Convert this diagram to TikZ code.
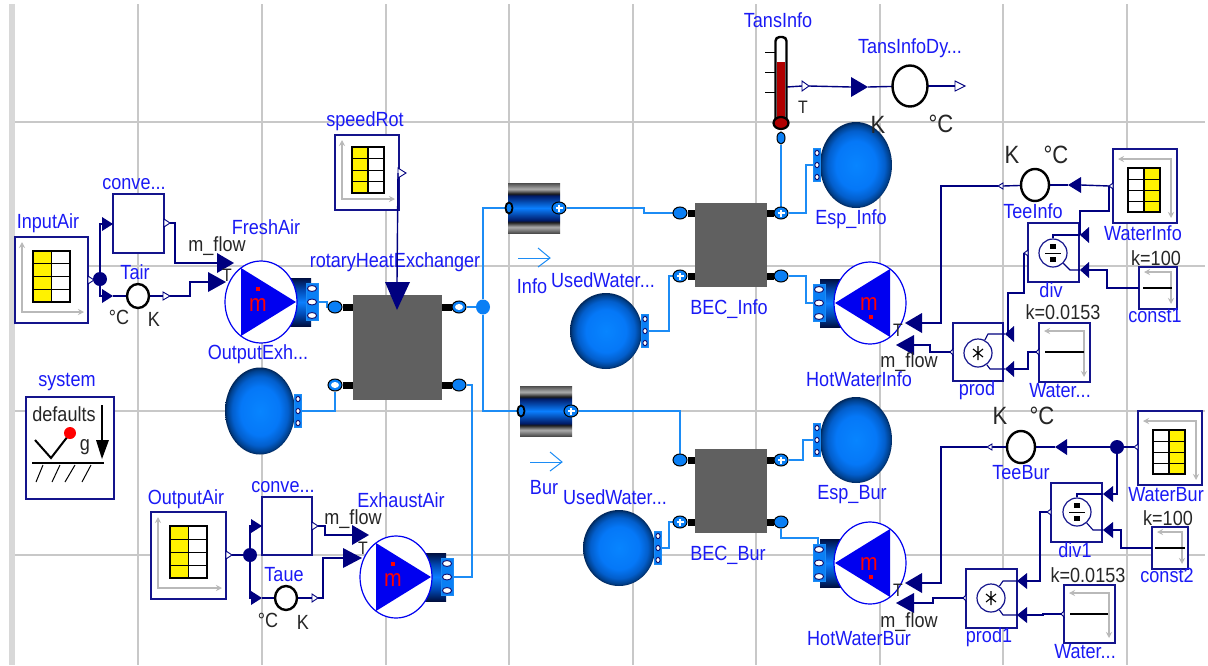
\documentclass[tikz,border=0pt]{standalone}
\usepackage{fontspec}
\setmainfont{Liberation Sans}
\newfontfamily\tallf[FakeStretch=0.88]{Liberation Sans}
\usetikzlibrary{shapes.geometric,arrows.meta}
\definecolor{navysig}{HTML}{00007F}
\definecolor{boxblue}{HTML}{14148C}
\definecolor{labblue}{HTML}{1A1AF5}
\definecolor{pureblue}{HTML}{0000F0}
\definecolor{flowc}{HTML}{1C8CF5}
\definecolor{fblue}{HTML}{0A7FF5}
\definecolor{gridc}{HTML}{C8C8C8}
\definecolor{hxgray}{HTML}{606060}
\definecolor{redth}{HTML}{B00000}
\pgfdeclarelayer{grid}\pgfdeclarelayer{boxes}\pgfdeclarelayer{conn}
\pgfsetlayers{grid,boxes,conn,main}
\pgfdeclareradialshading{sph}{\pgfpoint{0bp}{0bp}}{rgb(0bp)=(.03,.52,1);rgb(14bp)=(.02,.47,.97);rgb(20bp)=(.01,.37,.8);rgb(23.5bp)=(0,.25,.55);rgb(25bp)=(0,.15,.35);rgb(50bp)=(0,.15,.35)}
\pgfdeclareverticalshading{cylsh}{100bp}{rgb(0bp)=(0,.06,.25);rgb(25bp)=(0,.06,.25);rgb(37bp)=(0,.28,.7);rgb(50bp)=(.04,.5,1);rgb(63bp)=(0,.28,.7);rgb(75bp)=(0,.06,.25);rgb(100bp)=(0,.06,.25)}
\pgfdeclareverticalshading{pipesh}{100bp}{rgb(0bp)=(.3,.3,.3);rgb(25bp)=(.3,.3,.3);rgb(31bp)=(.68,.68,.68);rgb(36bp)=(.08,.08,.08);rgb(37.5bp)=(0,.1,.4);rgb(50bp)=(.04,.5,1);rgb(62.5bp)=(0,.1,.4);rgb(64bp)=(.08,.08,.08);rgb(69bp)=(.68,.68,.68);rgb(75bp)=(.3,.3,.3);rgb(100bp)=(.3,.3,.3)}
\tikzset{
 lab/.style={text=labblue,font=\tallf\fontsize{20.5}{20.5}\selectfont,inner sep=0pt},
 blk/.style={text=black!85,font=\tallf\fontsize{20.5}{20.5}\selectfont,inner sep=0pt},
 big/.style={text=black!85,font=\tallf\fontsize{25}{25}\selectfont,inner sep=0pt},
 smallt/.style={text=black!85,font=\tallf\fontsize{18}{18}\selectfont,inner sep=0pt},
 redm/.style={text=red,font=\tallf\fontsize{24}{24}\selectfont,inner sep=0pt},
 bbox/.style={draw=boxblue,line width=1.4pt,fill=white,rectangle,inner sep=0pt,outer sep=0pt},
 sig/.style={draw=navysig,line width=1.4pt},
 inner/.style={draw=navysig,line width=1.1pt},
 flow/.style={draw=flowc,line width=1.6pt},
 stub/.style={draw=black,line width=7pt},
 axisl/.style={draw=gray!55,line width=1.1pt,{Stealth[length=6pt,width=6pt]}-{Stealth[length=6pt,width=6pt]}},
 ringb/.style={ellipse,draw=black,line width=2.4pt,fill=white,inner sep=0pt,outer sep=0pt},
 mathc/.style={ellipse,draw=boxblue,line width=1.2pt,fill=white,inner sep=0pt,minimum width=28pt,minimum height=28pt},
 jct/.style={ellipse,fill=navysig,inner sep=0pt,minimum width=14pt,minimum height=14pt},
 hxb/.style={rectangle,fill=hxgray,inner sep=0pt,outer sep=0pt},
 portn/.style={ellipse,draw=black,line width=1pt,fill=fblue,inner sep=0pt,minimum width=14pt,minimum height=12pt},
 portk/.style={ellipse,draw=black,line width=1.8pt,fill=fblue,inner sep=0pt,minimum width=7pt,minimum height=11pt},
 flowarr/.style={draw=flowc,line width=1pt}
}
% box node
\newcommand\bx[5]{\begin{pgfonlayer}{boxes}\node[bbox,minimum width={#4-#2},minimum height={#5-#3}] (#1) at ({(#2+#4)/2},{(#3+#5)/2}) {};\end{pgfonlayer}}
% axes: normal and flipped
\newcommand\axn[4]{\draw[axisl] ({#1+7},{#2+5}) -- ({#1+7},{#4-11}) -- ({#3-4},{#4-11});}
\newcommand\axf[4]{\draw[axisl] ({#1+5},{#2+10}) -- ({#3-6},{#2+10}) -- ({#3-6},{#4-5});}
% table grid
\newcommand\tgrid[5]{%
 \fill[white] (#1,#2) rectangle (#3,#4);
 \ifnum#5=0 \fill[yellow] (#1,#2) rectangle ({(#1+#3)/2},#4);\else \fill[yellow] ({(#1+#3)/2},#2) rectangle (#3,#4);\fi
 \draw[black,line width=1.1pt] (#1,#2) rectangle (#3,#4);
 \draw[black,line width=1.1pt] ({(#1+#3)/2},#2) -- ({(#1+#3)/2},#4);
 \foreach \ff in {.25,.5,.75} \draw[black,line width=1pt] (#1,{#2+\ff*(#4-#2)}) -- (#3,{#2+\ff*(#4-#2)});
}
% triangles: name, base x, y, width (signed), half height
\newcommand\tri[5]{\coordinate (#1) at (#2,#3);\coordinate (#1-t) at ({#2+#4},#3);
 \fill[navysig] (#2,{#3-#5}) -- ({#2+#4},#3) -- (#2,{#3+#5}) -- cycle;}
\newcommand\htri[5]{\coordinate (#1) at (#2,#3);\coordinate (#1-t) at ({#2+#4},#3);
 \draw[navysig,fill=white,line width=.9pt] (#2,{#3-#5}) -- ({#2+#4},#3) -- (#2,{#3+#5}) -- cycle;}
% port strip: centre, half width, spacing
\newcommand\strip[4]{\draw[flowc,fill=fblue,line width=1pt] ({#1-#3},{#2-1.4*#4}) rectangle ({#1+#3},{#2+1.4*#4});
 \foreach \dd in {-1,0,1} \draw[boxblue!80!black,fill=white,line width=.9pt] ({#1},{#2+\dd*#4}) ellipse [x radius={#3-1.4},y radius={.22*#4}];}
% sphere: name cx cy rx ry dir
\newcommand\sphr[6]{\node[ellipse,shading=sph,inner sep=0pt,minimum width={2*#4},minimum height={2*#5}] (#1) at (#2,#3) {};
 \strip{#2+#6*(#4+3)}{#3}{3.5}{12}
 \coordinate (#1-o) at ({#2+#6*(#4+6)},#3);}
% pump: name cx cy dir
\newcommand\pump[4]{%
 \shade[shading=cylsh] ({#2+#4*28},{#3-24}) rectangle ({#2+#4*50},{#3+24});
 \node[ellipse,draw=pureblue,line width=1.2pt,fill=white,inner sep=0pt,minimum width=72pt,minimum height=82pt] (#1) at (#2,#3) {};
 \fill[pureblue] ({#2-#4*20},{#3-34}) -- ({#2+#4*35},#3) -- ({#2-#4*20},{#3+34}) -- cycle;
 \strip{#2+#4*51}{#3}{6}{13.5}
 \coordinate (#1-o) at ({#2+#4*57},#3);
 \coordinate (#1-t) at ({#2+#4*52},{#3-19});
 \ifnum#4=1
  \node[redm] (#1-m) at ({#2-3},{#3+3}) {m};
  \fill[red] ({#2-5},{#3-15}) rectangle ({#2-1},{#3-11});
 \else
  \node[redm] (#1-m) at ({#2-1},{#3+1}) {m};
  \fill[red] ({#2-1},{#3+12}) rectangle ({#2+3},{#3+16});
 \fi
}
% fluid port: name x y type
\newcommand\fport[4]{\node[portn] (#1) at (#2,#3) {};
 \if#4w\fill[white] (#2,#3) ellipse [x radius=4,y radius=3];\fi
 \if#4p\fill[white] ({#2-3.5},{#3-1}) rectangle ({#2+3.5},{#3+1});\fill[white] ({#2-1},{#3-3.5}) rectangle ({#2+1},{#3+3.5});\fi
}
\newcommand\pipeb[3]{\node[rectangle,shading=pipesh,inner sep=0pt,minimum width=52pt,minimum height=50pt] (#1) at (#2,#3) {};}
\newcommand\farrow[2]{\draw[flowarr] (#1,#2) -- ({#1+32},#2);\draw[flowarr] ({#1+20},{#2-10}) -- ({#1+32},#2) -- ({#1+20},{#2+9});}
\newcommand\divsym[2]{\fill[black] ({#1-3},{#2-9}) rectangle ({#1+3},{#2-4});\fill[black] ({#1-3},{#2+4}) rectangle ({#1+3},{#2+9});\draw[black,line width=1pt] ({#1-8},#2) -- ({#1+8},#2);}
\newcommand\mulsym[2]{\draw[black,line width=1.1pt] ({#1-5},{#2-4}) -- ({#1+5},{#2+4}) ({#1+5},{#2-4}) -- ({#1-5},{#2+4}) (#1,{#2-7}) -- (#1,{#2+7});}
\begin{document}
\begin{tikzpicture}[x=1pt,y=-1pt]
\useasboundingbox (0,0) rectangle (1208,665);
% grid
\begin{pgfonlayer}{grid}
\fill[white] (0,0) rectangle (1208,665);
\fill[gridc!70] (9,4) rectangle (15,665);
\foreach \gx in {138,262,386,509,633,756,880,1003,1127} \draw[gridc,line width=1.5pt] (\gx,4) -- (\gx,665);
\foreach \gy in {122,266,411,555} \draw[gridc,line width=1.5pt] (15,\gy) -- (1205,\gy);
\end{pgfonlayer}
% -------- left column
\bx{inputair}{15}{237}{88}{323}\axn{15}{237}{88}{323}\tgrid{33}{251}{70}{302}{0}
\bx{conv1}{113}{194}{164}{253}
\node[ringb,minimum width=22pt,minimum height=24pt] (tair) at (138,296) {};
\node[jct] (j1) at (100,279) {};
\htri{hIA}{88}{280}{6}{4}
\tri{tC1}{102}{224}{11}{7}
\tri{tT1}{102}{296}{11}{7}
\htri{hC1}{164}{223}{6}{4}
\htri{hT1}{163}{296}{7}{4}
\tri{tF1}{217}{263}{17}{10}
\tri{tF2}{208}{282}{18}{10}
\pump{fresh}{261}{302}{1}
% speedRot
\bx{speedrot}{335}{135}{399}{210}\axn{335}{135}{399}{210}\tgrid{352}{147}{384}{193}{0}
\htri{hS}{398}{173}{8}{5}
% rotary exchanger
\node[hxb,minimum width=89pt,minimum height=105pt] (rhx) at (397.5,347.5) {};
\fport{pRTL}{335}{307}{s}\fport{pRBL}{335}{385}{w}\fport{pRTR}{459}{307}{w}\fport{pRBR}{459}{385}{s}
\node[ellipse,fill=fblue,inner sep=0pt,minimum width=14pt,minimum height=15pt] (jf) at (483,307) {};
\coordinate (tS) at (397,282);
\sphr{outexh}{260}{411}{35}{43.5}{1}
% system
\bx{sys}{26}{397}{114}{499}
\node[blk] (sdef) at (64,414) {defaults};
\draw[black,line width=1.1pt] (102,405) -- (102,445);
\fill[black] (96,440) -- (109,440) -- (102,459) -- cycle;
\node[blk] (sg) at (85,447) {g};
\draw[black,line width=2pt] (35,440) -- (51,458) -- (68,436);
\node[circle,fill=red,inner sep=0pt,minimum size=12pt] (sdot) at (70,433) {};
\draw[black,line width=1.2pt] (32,463) -- (104,463);
\draw[black,line width=1pt] (36,482) -- (43,465) (52,482) -- (60,465) (65,482) -- (75,465) (82,482) -- (91,465);
% output air
\bx{outputair}{151}{512}{226}{599}\axn{151}{512}{226}{599}\tgrid{170}{526}{207}{578}{0}
\bx{conv2}{262}{497}{312}{555}
\node[ringb,minimum width=22pt,minimum height=24pt] (taue) at (286,598) {};
\node[jct] (j2) at (250,555) {};
\htri{hOA}{226}{555}{6}{4}
\tri{tC2}{251}{526}{11}{7}
\tri{tT2}{251}{598}{11}{7}
\htri{hC2}{312}{526}{6}{4}
\htri{hT2}{312}{598}{6}{4}
\tri{tE1}{352}{535}{17}{10}
\tri{tE2}{343}{558}{19}{10}
\pump{exh}{396}{577}{1}
% pipes
\pipeb{pinfo}{534}{208}\pipeb{pbur}{546}{411}
\node[portk] (pIL) at (509,208) {};\fport{pIR}{559}{208}{p}
\node[portk] (pBL) at (521,411) {};\fport{pBR}{571}{411}{p}
\farrow{518}{258}\farrow{530}{462}
% BEC
\node[hxb,minimum width=72pt,minimum height=84pt] (becI) at (731,245) {};
\fport{bITL}{680}{213}{s}\fport{bIBL}{680}{276}{p}\fport{bITR}{781}{213}{p}\fport{bIBR}{781}{276}{s}
\node[hxb,minimum width=72pt,minimum height=84pt] (becB) at (731,491) {};
\fport{bBTL}{680}{460}{s}\fport{bBBL}{680}{522}{p}\fport{bBTR}{781}{460}{p}\fport{bBBR}{781}{522}{s}
\sphr{usedI}{606}{331}{36}{38}{1}
\sphr{usedB}{619}{548}{36}{38}{1}
\sphr{espI}{856}{165}{36}{43}{-1}
\sphr{espB}{856}{440}{36}{43}{-1}
\pump{hotI}{870}{303}{-1}
\pump{hotB}{870}{563}{-1}
% thermometer
\draw[black,line width=1pt] (765,52) -- (775,52) (765,72) -- (775,72) (765,92) -- (775,92);
\node[rectangle,rounded corners=4pt,draw=black,line width=2.4pt,fill=white,inner sep=0pt,minimum width=11pt,minimum height=86pt] (thermo) at (781,80) {};
\fill[redth] (777,62) rectangle (785,122);
\draw[black,line width=2.2pt,fill=redth] (781,123) ellipse [x radius=7.5,y radius=6];
\node[ellipse,draw=black,line width=1pt,fill=fblue,inner sep=0pt,minimum width=8pt,minimum height=12pt] (thP) at (781,138) {};
\coordinate (thO) at (787,87);
\htri{hTI}{802}{86}{7}{5}
\tri{tTD}{851}{87}{17}{10}
\node[ringb,minimum width=35pt,minimum height=41pt] (tdyn) at (910,86) {};
\htri{hTD}{955}{86}{10}{5}
% ---------- info controls
\bx{waterinfo}{1113}{149}{1177}{223}\axf{1113}{149}{1177}{223}\tgrid{1128}{168}{1160}{212}{1}
\node[ringb,minimum width=28pt,minimum height=32pt] (teeinfo) at (1035,185) {};
\bx{divI}{1028}{223}{1079}{282}
\node[mathc] (dvI) at (1053,253) {};\divsym{1053}{253}
\bx{const1}{1139}{267}{1177}{309}\axf{1139}{262}{1177}{309}
\draw[black,line width=1.1pt] (1143,288) -- (1172,288);
\bx{prodI}{953}{323}{1003}{381}
\node[mathc] (prI) at (978,353) {};\mulsym{978}{353}
\bx{waterk1}{1039}{323}{1090}{382}\axf{1039}{321}{1090}{382}
\draw[black,line width=1.1pt] (1045,352) -- (1084,352);
\htri{hWI}{1113}{186}{-4}{3}
\tri{tTI}{1081}{185}{-13}{8}
\htri{hTe}{1003}{186}{-5}{3}
\tri{tH1}{922}{323}{-17}{10}
\tri{tD1}{1089}{235}{-9}{8}
\tri{tD2}{1089}{270}{-9}{8}
\htri{hDv}{1028}{253}{-4}{3}
\tri{tP1}{1014}{334}{-9}{8}
\tri{tP2}{1014}{369}{-9}{8}
\htri{hPr}{953}{352}{-3}{3}
\tri{tH2}{914}{345}{-18}{10}
\htri{hW1}{1039}{352}{-3}{3}
% ---------- bur controls
\bx{waterbur}{1138}{411}{1202}{485}\axf{1138}{411}{1202}{485}\tgrid{1153}{430}{1185}{474}{1}
\node[ringb,minimum width=28pt,minimum height=32pt] (teebur) at (1021,447) {};
\node[jct] (j3) at (1117,447) {};
\bx{divB}{1051}{483}{1102}{542}
\node[mathc] (dvB) at (1077,512) {};\divsym{1077}{512}
\bx{const2}{1152}{527}{1188}{569}\axf{1152}{522}{1188}{569}
\draw[black,line width=1.1pt] (1155,548) -- (1185,548);
\bx{prodB}{966}{569}{1017}{628}
\node[mathc] (prB) at (991,598) {};\mulsym{991}{598}
\bx{waterk2}{1064}{585}{1115}{643}\axf{1064}{583}{1115}{643}
\draw[black,line width=1.1pt] (1070,614) -- (1108,614);
\htri{hWB}{1138}{447}{-4}{3}
\tri{tTB}{1067}{447}{-12}{8}
\htri{hTb}{992}{447}{-5}{3}
\tri{tH3}{922}{583}{-17}{10}
\tri{tD3}{1113}{494}{-10}{8}
\tri{tD4}{1113}{530}{-10}{8}
\htri{hD1}{1051}{512}{-4}{3}
\tri{tP3}{1027}{581}{-10}{8}
\tri{tP4}{1027}{615}{-10}{8}
\htri{hP1}{966}{598}{-3}{3}
\tri{tH4}{914}{603}{-18}{10}
\htri{hW2}{1064}{614}{-3}{3}
% ---------- labels
\node[lab] (lInputAir) at (48,223) {InputAir};
\node[lab] (lconv1) at (134,184) {conve...};
\node[lab] (lTair) at (135,272) {Tair};
\node[lab] (lFresh) at (266,227) {FreshAir};
\node[lab] (lOutExh) at (258,354) {OutputExh...};
\node[lab] (lSpeed) at (365,121) {speedRot};
\node[lab] (lRot) at (395,262) {rotaryHeatExchanger};
\node[lab] (lSys) at (67,382) {system};
\node[lab] (lOutAir) at (186,499) {OutputAir};
\node[lab] (lconv2) at (283,487) {conve...};
\node[lab] (lTaue) at (284,575) {Taue};
\node[lab] (lExh) at (401,500) {ExhaustAir};
\node[blk] (mF1) at (217,246) {m\_flow};
\node[blk] (mF2) at (353,519) {m\_flow};
\node[smallt] (tF) at (227,275) {T};
\node[smallt] (tE) at (363,548) {T};
\node[blk] (cT1) at (119,317) {°C};
\node[blk] (kT1) at (154,319) {K};
\node[blk] (cT2) at (268,620) {°C};
\node[blk] (kT2) at (303,622) {K};
\node[lab] (lInfo) at (532,286) {Info};
\node[lab] (lBur) at (544,488) {Bur};
\node[lab] (lUI) at (603,280) {UsedWater...};
\node[lab] (lUB) at (615,497) {UsedWater...};
\node[lab] (lBI) at (729,309) {BEC\_Info};
\node[lab] (lBB) at (728,555) {BEC\_Bur};
\node[lab] (lEI) at (851,219) {Esp\_Info};
\node[lab] (lEB) at (852,495) {Esp\_Bur};
\node[lab] (lHI) at (859,379) {HotWaterInfo};
\node[lab] (lHB) at (859,639) {HotWaterBur};
\node[lab] (lTrans) at (778,20) {TansInfo};
\node[lab] (lTD) at (910,48) {TansInfoDy...};
\node[smallt] (tTh) at (803,107) {T};
\node[big] (kTD) at (878,125) {K};
\node[big] (cTD) at (941,124) {°C};
\node[big] (kTI) at (1012,155) {K};
\node[big] (cTI) at (1056,155) {°C};
\node[lab] (lTeeI) at (1033,211) {TeeInfo};
\node[lab] (lWI) at (1143,233) {WaterInfo};
\node[lab] (ldiv) at (1051,290) {div};
\node[blk] (k100a) at (1156,258) {k=100};
\node[lab] (lc1) at (1155,316) {const1};
\node[blk] (k153a) at (1063,312) {k=0.0153};
\node[lab] (lprod) at (977,390) {prod};
\node[lab] (lw1) at (1060,391) {Water...};
\node[smallt] (tHI) at (898,330) {T};
\node[blk] (mHI) at (909,362) {m\_flow};
\node[big] (kTB) at (1000,416) {K};
\node[big] (cTB) at (1042,416) {°C};
\node[lab] (lTeeB) at (1021,473) {TeeBur};
\node[lab] (lWB) at (1166,495) {WaterBur};
\node[lab] (ldiv1) at (1075,550) {div1};
\node[blk] (k100b) at (1168,518) {k=100};
\node[lab] (lc2) at (1167,575) {const2};
\node[blk] (k153b) at (1088,575) {k=0.0153};
\node[lab] (lprod1) at (989,637) {prod1};
\node[lab] (lw2) at (1085,652) {Water...};
\node[smallt] (tHB) at (898,590) {T};
\node[blk] (mHB) at (909,622) {m\_flow};
% line and head over rotaryHeatExchanger text
\draw[sig] (hS) -- (tS);
\fill[navysig] (385,282) -- (410,282) -- (397,310) -- cycle;
% ---------- connectors
\begin{pgfonlayer}{conn}
\draw[sig] (hIA-t) -- (j1);
\draw[sig] (j1) |- (tC1);
\draw[sig] (j1) |- (tT1);
\draw[sig] (tT1-t) -- (tair);
\draw[sig] (hC1-t) -- ++(5,0) |- (tF1);
\draw[sig] (tair) -- (hT1);
\draw[sig] (hT1-t) -- ++(20,0) |- (tF2);
\draw[sig] (hOA-t) -- (j2);
\draw[sig] (j2) |- (tC2);
\draw[sig] (j2) |- (tT2);
\draw[sig] (tT2-t) -- (taue);
\draw[sig] (taue) -- (hT2);
\draw[sig] (hT2-t) -- ++(5,0) |- (tE2);
\draw[sig] (hC2-t) -- ++(7,0) |- (tE1);
\draw[sig] (thO) -- (hTI);
\draw[sig] (hTI-t) -- (tTD);
\draw[sig] (tTD-t) -- (tdyn);
\draw[sig] (tdyn) -- (hTD);
% info controls
\draw[sig] (hWI-t) -- (tTI);
\draw[sig] (tTI-t) -- (teeinfo);
\draw[sig] (teeinfo) -- (hTe);
\draw[sig] (hTe-t) -- ++(-57,0) |- (tH1);
\draw[sig] (hWI-t) -- ++(0,25) -| (tD1-t);
\draw[inner] (tD1-t) -| (dvI);
\draw[sig] (const1.west) -- ++(-32,0) |- (tD2);
\draw[inner] (tD2-t) -- ++(-10,0) -- (dvI);
\draw[sig] (hDv-t) -- ++(0,40) -- ++(-16,0) |- (tP1);
\draw[inner] (tP1-t) -- ++(-17,0) -- (prI);
\draw[sig] (hW1-t) -- ++(-8,0) |- (tP2);
\draw[inner] (tP2-t) -- ++(-15,0) -- (prI);
\draw[sig] (hPr-t) -- ++(-20,0) |- (tH2);
% bur controls
\draw[sig] (hWB-t) -- (j3);
\draw[sig] (j3) -- (tTB);
\draw[sig] (tTB-t) -- (teebur);
\draw[sig] (teebur) -- (hTb);
\draw[sig] (hTb-t) -- ++(-46,0) |- (tH3);
\draw[sig] (j3) |- (tD3);
\draw[inner] (tD3-t) -| (dvB);
\draw[sig] (const2.west) -- ++(-31,0) |- (tD4);
\draw[inner] (tD4-t) -- ++(-10,0) -- (dvB);
\draw[sig] (hD1-t) -- ++(-7,0) |- (tP3);
\draw[inner] (tP3-t) -- ++(-14,0) -- (prB);
\draw[sig] (hW2-t) -- ++(-18,0) |- (tP4);
\draw[inner] (tP4-t) -- ++(-14,0) -- (prB);
\draw[sig] (hP1-t) -- ++(-30,0) |- (tH4);
% stubs
\draw[stub] (pRTL) -- (pRTL -| rhx.west);
\draw[stub] (pRBL) -- (pRBL -| rhx.west);
\draw[stub] (pRTR) -- (pRTR -| rhx.east);
\draw[stub] (pRBR) -- (pRBR -| rhx.east);
\draw[stub] (bITL) -- (bITL -| becI.west);
\draw[stub] (bIBL) -- (bIBL -| becI.west);
\draw[stub] (bITR) -- (bITR -| becI.east);
\draw[stub] (bIBR) -- (bIBR -| becI.east);
\draw[stub] (bBTL) -- (bBTL -| becB.west);
\draw[stub] (bBBL) -- (bBBL -| becB.west);
\draw[stub] (bBTR) -- (bBTR -| becB.east);
\draw[stub] (bBBR) -- (bBBR -| becB.east);
% fluid
\draw[flow] (fresh-o) -- ++(9,0) |- (pRTL);
\draw[flow] (outexh-o) -| (pRBL);
\draw[flow] (exh-o) -- ++(19,0) |- (pRBR);
\draw[flow] (pRTR) -- (jf);
\draw[flow] (jf) |- (pIL);
\draw[flow] (jf) |- (pBL);
\draw[flow] (pIR) -- ++(85,0) |- (bITL);
\draw[flow] (pBR) -| (bBTL);
\draw[flow] (usedI-o) -- ++(21,0) |- (bIBL);
\draw[flow] (usedB-o) -- ++(8,0) |- (bBBL);
\draw[flow] (thP) -- (bITR);
\draw[flow] (bITR) -- ++(25,0) |- (espI-o);
\draw[flow] (bIBR) -- ++(25,0) |- (hotI-o);
\draw[flow] (bBTR) -- ++(22,0) |- (espB-o);
\draw[flow] (bBBR) -- ++(0,16) -| (hotB-t);
\end{pgfonlayer}
\end{tikzpicture}
\end{document}
